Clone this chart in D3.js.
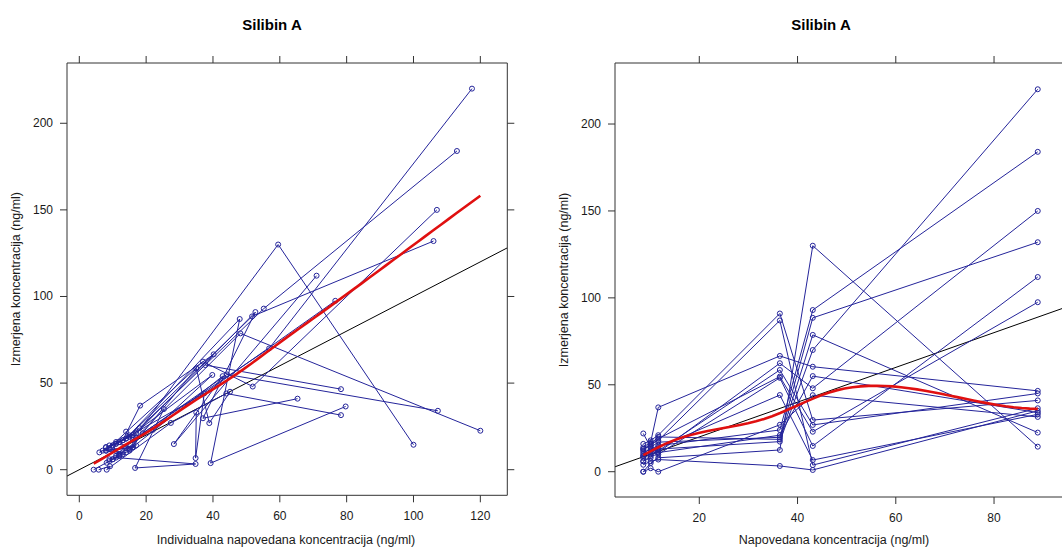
<!DOCTYPE html>
<html><head><meta charset="utf-8">
<script src="https://cdn.jsdelivr.net/npm/d3@7"></script>
<style>
body{margin:0;background:#fff}
text{font-family:"Liberation Sans",Arial,sans-serif}
</style>
</head><body>
<svg id="chart" width="1062" height="547"></svg>
<script>
// ---------------- data ----------------
const subjects = d3.range(1, 17);
const popPredByTime = [8.6, 10.1, 11.65, 36.4, 43.1, 88.9];
const obsT1 = [9, 11, 8, 10, 6, 13, 0, 12, 14, 16, 9, 6, 13, 0, 4, 22];
const obsT2 = [11, 13, 10, 14, 9, 15, 5, 16, 17, 18, 12, 8, 16, 2, 6, 14];
const obsT3 = [13, 15, 11, 17, 10, 19, 8, 20, 37, 21, 12, 14, 18, 0, 7, 11];
const obsT4 = [17.3, 24, 62.4, 19.8, 54, 54.7, 12.5, 18.6, 66.6, 91, 58.5, 44.1, 87, 27, 3.3, 21];
const obsT5 = [70, 93, 48, 88.5, 14.8, 23, 130, 78.7, 60.4, 29.7, 26.9, 6.7, 3.8, 44, 1, 55];
const obsT6 = [220, 184, 150, 132, 112, 97.5, 14.4, 22.5, 46.5, 41, 45, 33, 36.5, 31.5, 35, 34];
const ipredT1 = [12, 7, 11, 6, 10, 8, 4.3, 15, 9, 11, 13, 9, 8, 5.8, 8.2, 14];
const ipredT2 = [8, 16, 13, 10, 12, 11, 9, 12, 13, 14, 9, 12, 12, 9.2, 10, 17];
const ipredT3 = [16, 11, 8, 13, 14, 15, 12, 16, 18.2, 17, 15, 10, 14, 8.2, 11, 15];
const ipredT4 = [16, 18, 37, 15, 42.9, 39.8, 14, 17, 40.2, 52.7, 35, 37.4, 48, 27.4, 34.8, 19];
const ipredT5 = [56.8, 55.2, 51.9, 51.7, 28.3, 22, 59.5, 48.2, 37.7, 37, 38.9, 34.8, 39.3, 44, 16.7, 44.2];
const ipredT6 = [117.5, 113, 107, 106, 71, 76.6, 100, 120, 78.3, 65.3, 45.1, 35, 79.7, 78.3, 25.3, 107.3];

const xTicksLeft = [0, 20, 40, 60, 80, 100, 120];
const xTicksRight = [20, 40, 60, 80];
const yTicks = [0, 50, 100, 150, 200];
const panelTitle = "Silibin A";
const xLabelLeft = "Individualna napovedana koncentracija (ng/ml)";
const xLabelRight = "Napovedana koncentracija (ng/ml)";
const yLabel = "Izmerjena koncentracija (ng/ml)";

// ---------------- assemble rows ----------------
const obsByTime = [obsT1, obsT2, obsT3, obsT4, obsT5, obsT6];
const ipredByTime = [ipredT1, ipredT2, ipredT3, ipredT4, ipredT5, ipredT6];
const rows = [];
subjects.forEach((s, i) => {
  popPredByTime.forEach((p, t) => {
    rows.push({subj: s, pred: p, ipred: ipredByTime[t][i], obs: obsByTime[t][i]});
  });
});

// ------- loess as in lattice panel.loess (span 2/3, degree 1, symmetric, kd-tree interpolation) -------
function loess(xs, ys, span = 2/3, iterations = 4, nEval = 50) {
  const n = xs.length;
  const q = Math.floor(n * span + 1e-5);
  const fc = Math.floor(n * span * 0.2);
  const sx = xs.slice().sort((a, b) => a - b);
  const lo0 = sx[0], hi0 = sx[n - 1];
  const mu = 0.005 * Math.max(hi0 - lo0, 1e-10 * Math.max(Math.abs(lo0), Math.abs(hi0)) + 1e-30);
  const verts = [lo0 - mu, hi0 + mu];
  (function split(l, u, vlo, vhi) {
    if (u - l + 1 <= fc) return;
    let m = Math.floor((l + 1 + u + 1) / 2) - 1;
    let off = 0;
    while (!((m + off) >= u || (m + off) < l)) {
      if (sx[m + off] === sx[m + off + 1]) {
        off = -off; if (off >= 0) off += 1;
      } else { m = m + off; break; }
    }
    const xi = sx[m];
    if (xi === vlo || xi === vhi) return;
    verts.push(xi);
    split(l, m, vlo, xi);
    split(m + 1, u, xi, vhi);
  })(0, n - 1, verts[0], verts[1]);
  verts.sort((a, b) => a - b);

  let robust = new Array(n).fill(1);
  function localFit(x0) {
    const d = xs.map(x => Math.abs(x - x0));
    const idx = d3.range(n).sort((a, b) => d[a] - d[b]).slice(0, q);
    const h = d[idx[q - 1]];
    let sw = 0, s1 = 0, sy = 0, s11 = 0, s1y = 0;
    for (const i of idx) {
      if (!(d[i] < h)) continue;
      const u = d[i] / h;
      const w = Math.pow(1 - u * u * u, 3) * robust[i];
      const xc = xs[i] - x0;
      sw += w; s1 += w * xc; sy += w * ys[i]; s11 += w * xc * xc; s1y += w * xc * ys[i];
    }
    const den = sw * s11 - s1 * s1;
    if (Math.abs(den) < 1e-12 * Math.max(1, sw * s11)) return [sy / sw, 0];
    const b = (sw * s1y - s1 * sy) / den;
    const a = (sy - b * s1) / sw;
    return [a, b];
  }
  let vals;
  function surface(x) {
    let k = d3.bisectRight(verts, x) - 1;
    k = Math.max(0, Math.min(verts.length - 2, k));
    const v0 = verts[k], v1 = verts[k + 1], hh = v1 - v0;
    const t = (x - v0) / hh;
    const [g0, d0] = vals[k], [g1, d1] = vals[k + 1];
    const phi0 = (1 - t) * (1 - t) * (1 + 2 * t), phi1 = t * t * (3 - 2 * t);
    const psi0 = t * (1 - t) * (1 - t), psi1 = -t * t * (1 - t);
    return phi0 * g0 + phi1 * g1 + (psi0 * d0 + psi1 * d1) * hh;
  }
  for (let it = 1; it <= iterations; it++) {
    vals = verts.map(localFit);
    if (it < iterations) {
      const res = xs.map((x, i) => Math.abs(ys[i] - surface(x)));
      const cmad = 6 * d3.median(res);
      robust = res.map(r => r > 0.999 * cmad ? 0 : (r > 0.001 * cmad ? Math.pow(1 - (r / cmad) ** 2, 2) : 1));
    }
  }
  return d3.range(nEval).map(k => {
    const x = lo0 + (hi0 - lo0) * k / (nEval - 1);
    return [x, surface(x)];
  });
}

// ---------------- drawing ----------------
const svg = d3.select("#chart");
const defs = svg.append("defs");
const lineCol = "#24249a";
const axisCol = "#333";
const textCol = "#1a1a1a";

function panel(cfg) {
  const {id, xKey, xDomain, xRange, yDomain, yRange, xTicks, title, titleX, xLabel, xLabelX, yLabelX} = cfg;
  const x = d3.scaleLinear().domain(xDomain).range(xRange);
  const y = d3.scaleLinear().domain(yDomain).range(yRange);
  const [x0, x1] = xRange, [y1, y0] = yRange;

  defs.append("clipPath").attr("id", "clip" + id)
    .append("rect").attr("x", x0).attr("y", y0).attr("width", x1 - x0).attr("height", y1 - y0);

  const g = svg.append("g");
  const plot = g.append("g").attr("clip-path", `url(#clip${id})`);

  plot.append("line")
    .attr("x1", x(xDomain[0])).attr("y1", y(xDomain[0]))
    .attr("x2", x(xDomain[1])).attr("y2", y(xDomain[1]))
    .attr("stroke", "#000").attr("stroke-width", 1);

  const groups = d3.group(rows, d => d.subj);
  const line = d3.line().x(d => x(d[xKey])).y(d => y(d.obs));
  for (const [s, pts] of groups) {
    plot.append("path").attr("d", line(pts))
      .attr("fill", "none").attr("stroke", lineCol).attr("stroke-width", 1);
  }
  plot.selectAll("circle.pt").data(rows).join("circle")
    .attr("class", "pt")
    .attr("cx", d => x(d[xKey])).attr("cy", d => y(d.obs)).attr("r", 2.5)
    .attr("fill", "none").attr("stroke", lineCol).attr("stroke-width", 1);

  const sm = loess(rows.map(d => d[xKey]), rows.map(d => d.obs));
  plot.append("path").attr("d", d3.line().x(d => x(d[0])).y(d => y(d[1]))(sm))
    .attr("fill", "none").attr("stroke", "#e01010").attr("stroke-width", 2.6);

  g.append("path")
    .attr("d", `M${x0},${y0}H${x1}V${y1}H${x0}Z`)
    .attr("fill", "none").attr("stroke", axisCol).attr("stroke-width", 1);

  const tl = 7;
  xTicks.forEach(v => {
    const px = x(v);
    g.append("line").attr("x1", px).attr("x2", px).attr("y1", y1).attr("y2", y1 + tl).attr("stroke", axisCol);
    g.append("line").attr("x1", px).attr("x2", px).attr("y1", y0).attr("y2", y0 - tl).attr("stroke", axisCol);
    g.append("text").attr("x", px).attr("y", y1 + 25).attr("text-anchor", "middle")
      .attr("font-size", 12).attr("fill", textCol).text(v);
  });
  yTicks.forEach(v => {
    const py = y(v);
    g.append("line").attr("x1", x0).attr("x2", x0 - tl).attr("y1", py).attr("y2", py).attr("stroke", axisCol);
    g.append("line").attr("x1", x1).attr("x2", x1 + tl).attr("y1", py).attr("y2", py).attr("stroke", axisCol);
    g.append("text").attr("x", x0 - 14).attr("y", py + 4).attr("text-anchor", "end")
      .attr("font-size", 12).attr("fill", textCol).text(v);
  });

  g.append("text").attr("x", titleX).attr("y", 30).attr("text-anchor", "middle")
    .attr("font-size", 15).attr("font-weight", "bold").attr("fill", "#000").text(title);
  g.append("text").attr("x", xLabelX).attr("y", 544).attr("text-anchor", "middle")
    .attr("font-size", 12.5).attr("fill", textCol).text(xLabel);
  g.append("text").attr("transform", `translate(${yLabelX},${(y0 + y1) / 2}) rotate(-90)`)
    .attr("text-anchor", "middle").attr("font-size", 12.5).attr("fill", textCol).text(yLabel);
}

panel({
  id: "L", xKey: "ipred",
  xDomain: [-3.68, 128.07], xRange: [67, 507.3],
  yDomain: [-14.78, 234.8], yRange: [495.3, 63],
  xTicks: xTicksLeft, title: panelTitle, titleX: 272,
  xLabel: xLabelLeft, xLabelX: 286, yLabelX: 20
});
panel({
  id: "R", xKey: "pred",
  xDomain: [2.84, 97.5], xRange: [615, 1080],
  yDomain: [-14.55, 235.1], yRange: [497, 63],
  xTicks: xTicksRight, title: panelTitle, titleX: 821,
  xLabel: xLabelRight, xLabelX: 834, yLabelX: 568
});
</script>
</body></html>
